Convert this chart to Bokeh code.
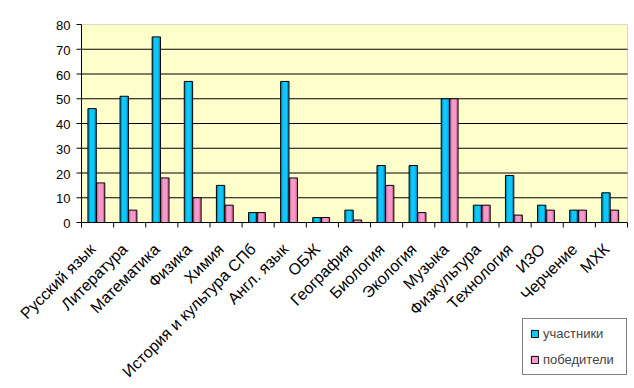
from math import pi
from bokeh.plotting import figure
from bokeh.models import (Range1d, Legend, LegendItem, ColumnDataSource, BoxAnnotation)
from bokeh.core.properties import value
from bokeh.embed import file_html
from bokeh.resources import INLINE

subjects = ["Русский язык", "Литература", "Математика", "Физика", "Химия",
            "История и культура СПб", "Англ. язык", "ОБЖ", "География", "Биология",
            "Экология", "Музыка", "Физкультура", "Технология", "ИЗО", "Черчение", "МХК"]
participants = [46, 51, 75, 57, 15, 4, 57, 2, 5, 23, 23, 50, 7, 19, 7, 5, 12]
winners = [16, 5, 18, 10, 7, 4, 18, 2, 1, 15, 4, 50, 7, 3, 5, 5, 5]
y_ticks = [0, 10, 20, 30, 40, 50, 60, 70, 80]
series_names = ["участники", "победители"]

FONT = "Liberation Sans"
W_FIG, H_FIG = 632, 386
PAD = 8                                  # unused outer strip of the canvas
LEFT, RIGHT_EDGE, TOP, ZERO_PX = 81, 627, 24, 222
YMAX = y_ticks[-1]
n = len(subjects)

# map most of the canvas to data space so texts outside the plot area are not clipped
ux = (RIGHT_EDGE - LEFT) / n            # px per category
uy = (ZERO_PX - TOP) / YMAX             # px per unit
x_range = Range1d(-(LEFT - PAD) / ux, n + (W_FIG - RIGHT_EDGE) / ux)
y_range = Range1d(-(H_FIG - ZERO_PX) / uy, YMAX + TOP / uy)

idx = list(range(n))
centers = [i + 0.5 for i in idx]
src = ColumnDataSource(dict(
    xb=[i + 0.33 for i in idx],
    xp=[i + 0.595 for i in idx],
    part=participants,
    win=winners,
))

p = figure(width=W_FIG, height=H_FIG, output_backend="svg", toolbar_location=None,
           x_range=x_range, y_range=y_range,
           x_axis_location=None, y_axis_location=None,
           min_border=0, min_border_left=PAD)
p.background_fill_color = "white"
p.border_fill_color = "white"
p.outline_line_color = None
p.grid.visible = False

# plot area
p.add_layout(BoxAnnotation(left=0, right=n, bottom=0, top=YMAX,
                           fill_color="#FFFFCC", fill_alpha=1,
                           line_color="#808080", line_width=1, level="image"))

# horizontal grid lines
grid_vals = y_ticks[1:-1]
p.segment(x0=[0] * len(grid_vals), x1=[n] * len(grid_vals), y0=grid_vals, y1=grid_vals,
          line_color="black", line_width=1)

W = 0.26
p.vbar(x="xb", top="part", width=W, bottom=0, source=src, fill_color="#0098D0", line_alpha=0)
sb = p.vbar(x="xb", top="part", width=W * 0.55, bottom=0, source=src, fill_color="#10C8F8", line_alpha=0)
p.vbar(x="xp", top="win", width=W, bottom=0, source=src, fill_color="#D8709F", line_alpha=0)
sp = p.vbar(x="xp", top="win", width=W * 0.55, bottom=0, source=src, fill_color="#F59ACB", line_alpha=0)
ob = p.vbar(x="xb", top="part", width=W, bottom=0, source=src, fill_alpha=0, line_color="black", line_width=1)
op = p.vbar(x="xp", top="win", width=W, bottom=0, source=src, fill_alpha=0, line_color="black", line_width=1)

# axes lines
p.segment(x0=[0], y0=[0], x1=[0], y1=[YMAX], line_color="black", line_width=1)
p.segment(x0=[0], y0=[0], x1=[n], y1=[0], line_color="black", line_width=1)

# y ticks and labels
tick_x = 5 / ux
p.segment(x0=[-tick_x] * len(y_ticks), x1=[0] * len(y_ticks), y0=y_ticks, y1=y_ticks,
          line_color="black", line_width=1)
p.text(x=[0] * len(y_ticks), y=y_ticks, text=[str(v) for v in y_ticks],
       text_align="right", text_baseline="middle", x_offset=-11, y_offset=1,
       text_font=value(FONT), text_font_size="13px", text_color="black")

# x ticks and labels
bounds = list(range(n + 1))
tick_y = 5 / uy
p.segment(x0=bounds, y0=[0] * len(bounds), x1=bounds, y1=[-tick_y] * len(bounds),
          line_color="black", line_width=1)
p.text(x=centers, y=[0] * n, text=subjects, angle=pi / 4,
       text_align="right", text_baseline="middle", x_offset=-5, y_offset=24,
       text_font=value(FONT), text_font_size="16px", text_color="black")

legend = Legend(items=[LegendItem(label=series_names[0], renderers=[sb, ob]),
                       LegendItem(label=series_names[1], renderers=[sp, op])],
                location=(522 - PAD, H_FIG - 375), margin=0, padding=7, spacing=11,
                glyph_width=9, glyph_height=9, label_height=14, label_width=76,
                label_standoff=4, label_text_font=FONT, label_text_font_size="13px",
                border_line_color="black", border_line_width=1,
                background_fill_color="white", background_fill_alpha=1)
p.add_layout(legend, "center")

open("out.html", "w").write(file_html(p, INLINE))
